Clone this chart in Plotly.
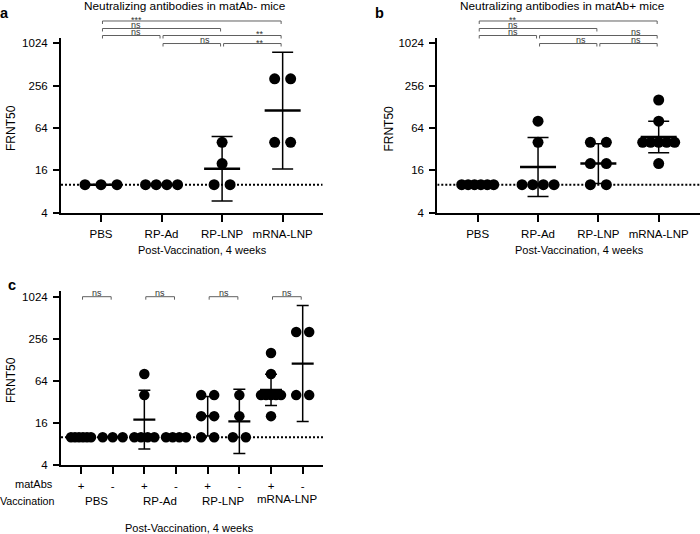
import numpy as np
import plotly.graph_objects as go

W, H = 700, 534

# ---------------- data ----------------
categories = ["PBS", "RP-Ad", "RP-LNP", "mRNA-LNP"]
# matAb- mice (panel a)
neg_pbs = [10, 10, 10]
neg_rpad = [10, 10, 10, 10]
neg_rplnp = [40, 20, 10, 10]
neg_mrna = [320, 320, 40, 40]
# matAb+ mice (panel b)
pos_pbs = [10, 10, 10, 10, 10, 10]
pos_rpad = [80, 40, 10, 10, 10, 10]
pos_rplnp = [40, 40, 20, 20, 10, 10]
pos_mrna = [160, 80, 40, 40, 40, 40, 40, 20]
lod = 10
ytick_vals = [4, 16, 64, 256, 1024]
ytick_text = ["4", "16", "64", "256", "1024"]
matab_labels = ["+", "-"]

stats_a = [("***", 0, 3), ("ns", 0, 2), ("ns", 0, 1), ("**", 1, 3), ("ns", 1, 2), ("**", 2, 3)]
stats_b = [("**", 0, 3), ("ns", 0, 2), ("ns", 0, 1), ("ns", 1, 3), ("ns", 1, 2), ("ns", 2, 3)]
stats_c = [("ns", 0, 1), ("ns", 2, 3), ("ns", 4, 5), ("ns", 6, 7)]

groups_a = [neg_pbs, neg_rpad, neg_rplnp, neg_mrna]
groups_b = [pos_pbs, pos_rpad, pos_rplnp, pos_mrna]
groups_c = []
for p, n in zip(groups_b, groups_a):
    groups_c += [p, n]

# t critical values (two-sided 95%)
T95 = {1: 12.706, 2: 4.303, 3: 3.182, 4: 2.776, 5: 2.571, 6: 2.447,
       7: 2.365, 8: 2.306, 9: 2.262, 10: 2.228}


def gm_ci(vals):
    l = np.log(np.asarray(vals, float))
    n = len(l)
    m = l.mean()
    s = l.std(ddof=1) if n > 1 else 0.0
    h = T95[n - 1] * s / np.sqrt(n)
    return float(np.exp(m)), float(np.exp(m - h)), float(np.exp(m + h))


def offsets(vals, maxgap, width):
    out = [0.0] * len(vals)
    for v in sorted(set(vals)):
        idx = [k for k, u in enumerate(vals) if u == v]
        n = len(idx)
        if n > 1:
            gap = min(maxgap, width / (n - 1))
            for k, j in enumerate(idx):
                out[j] = (k - (n - 1) / 2) * gap
    return out


# ---------------- layout geometry (pixels) ----------------
panels = {
    "a": dict(xdom=(61, 322.7), c0=101, dx=60.55, ydom=(38.3, 212.7), ytop=3.081,
              ax="x", ay="y", msize=11, maxgap=16, spread=32, mean_h=18, cap_h=10.5, mean_w=2.5),
    "b": dict(xdom=(437.3, 700), c0=477.7, dx=60.33, ydom=(38.3, 212.7), ytop=3.081,
              ax="x2", ay="y2", msize=11, maxgap=16, spread=32, mean_h=18, cap_h=10.5, mean_w=2.5),
    "c": dict(xdom=(61, 323), c0=81, dx=31.67, ydom=(290.7, 465), ytop=3.096,
              ax="x3", ay="y3", msize=10.5, maxgap=13, spread=20, mean_h=11, cap_h=6, mean_w=2.2),
}
for p in panels.values():
    p["r0"] = (p["xdom"][0] - p["c0"]) / p["dx"]
    p["r1"] = (p["xdom"][1] - p["c0"]) / p["dx"]

FONT = "Liberation Sans, Arial, Helvetica, sans-serif"

fig = go.Figure()


def px2paper_x(x):
    return x / W


def px2paper_y(y):
    return 1 - y / H


def add_panel(groups, pan):
    p = panels[pan]
    xa, ya = p["ax"], p["ay"]
    # LOD dotted line
    fig.add_trace(go.Scatter(x=[p["r0"], p["r1"]], y=[lod, lod], mode="lines",
                             line=dict(color="black", width=2, dash="2px,2px"),
                             xaxis=xa, yaxis=ya, hoverinfo="skip", showlegend=False))
    px_, py_, ex, ey, mx, my = [], [], [], [], [], []
    mh = p["mean_h"] / p["dx"]
    ch = p["cap_h"] / p["dx"]
    for i, vals in enumerate(groups):
        offs = offsets(vals, p["maxgap"], p["spread"])
        px_ += [i + o / p["dx"] for o in offs]
        py_ += list(vals)
        g, lo, hi = gm_ci(vals)
        ex += [i, i, None, i - ch, i + ch, None, i - ch, i + ch, None]
        ey += [lo, hi, None, lo, lo, None, hi, hi, None]
        mx += [i - mh, i + mh, None]
        my += [g, g, None]
    fig.add_trace(go.Scatter(x=ex, y=ey, mode="lines", line=dict(color="black", width=1.5),
                             xaxis=xa, yaxis=ya, hoverinfo="skip", showlegend=False))
    fig.add_trace(go.Scatter(x=px_, y=py_, mode="markers",
                             marker=dict(color="black", size=p["msize"], line=dict(width=0)),
                             xaxis=xa, yaxis=ya, showlegend=False))
    fig.add_trace(go.Scatter(x=mx, y=my, mode="lines", line=dict(color="black", width=p["mean_w"]),
                             xaxis=xa, yaxis=ya, hoverinfo="skip", showlegend=False))


add_panel(groups_a, "a")
add_panel(groups_b, "b")
add_panel(groups_c, "c")

shapes = []
annotations = []


def cat_px(pan, i):
    p = panels[pan]
    return p["c0"] + i * p["dx"]


def bracket(pan, i, j, ypx, label, lab_x_data=None, tick=3):
    x0 = cat_px(pan, i) + 1.5
    x1 = cat_px(pan, j) - 1.5
    path = "M {:.4f},{:.4f} L {:.4f},{:.4f} L {:.4f},{:.4f} L {:.4f},{:.4f}".format(
        px2paper_x(x0), px2paper_y(ypx + tick), px2paper_x(x0), px2paper_y(ypx),
        px2paper_x(x1), px2paper_y(ypx), px2paper_x(x1), px2paper_y(ypx + tick))
    shapes.append(dict(type="path", path=path, xref="paper", yref="paper",
                       line=dict(color="#606060", width=1)))
    if lab_x_data is None:
        lx = (x0 + x1) / 2
    else:
        lx = cat_px(pan, lab_x_data)
    ly = ypx - (1.0 if "*" in label else 3.5)
    annotations.append(dict(text=label, x=px2paper_x(lx), y=px2paper_y(ly), xref="paper", yref="paper",
                            showarrow=False, xanchor="center", yanchor="middle",
                            font=dict(size=9, color="#333333", family=FONT)))


levels = [21, 28.5, 35.5, 35.5, 43.5, 43.5]
label_pos = [0.58, 0.58, 0.58, 2.62, 1.72, 2.62]
for (lab, i, j), lv, lp in zip(stats_a, levels, label_pos):
    bracket("a", i, j, lv, lab, lp)
for (lab, i, j), lv, lp in zip(stats_b, levels, label_pos):
    bracket("b", i, j, lv, lab, lp)
for (lab, i, j) in stats_c:
    bracket("c", i, j, 296.7, lab)


def ann(text, x, y, size=11.5, xanchor="center", yanchor="middle", bold=False, angle=0):
    annotations.append(dict(text=("<b>%s</b>" % text) if bold else text, x=px2paper_x(x), y=px2paper_y(y),
                            xref="paper", yref="paper", showarrow=False, xanchor=xanchor,
                            yanchor=yanchor, textangle=angle,
                            font=dict(size=size, color="black", family=FONT)))


# titles
ann("Neutralizing antibodies in matAb- mice", 184.5, 6, size=11.8)
ann("Neutralizing antibodies in matAb+ mice", 562.5, 6, size=11.8)
# panel letters
ann("a", 4, 13, size=14.5, bold=True)
ann("b", 380, 13, size=14.5, bold=True)
ann("c", 12, 285, size=14.5, bold=True)
# y titles
ann("FRNT50", 11.7, 128.3, size=12, angle=-90)
ann("FRNT50", 389.3, 128.3, size=12, angle=-90)
ann("FRNT50", 11.7, 380.3, size=12, angle=-90)
# x titles
ann("Post-Vaccination, 4 weeks", 202, 250, size=11)
ann("Post-Vaccination, 4 weeks", 579, 250, size=11)
ann("Post-Vaccination, 4 weeks", 190, 528, size=11)
# panel c group labels
ann("matAbs", 55.5, 484, size=11, xanchor="right")
ann("Vaccination", 57, 501, size=10.7, xanchor="right")
for k, cat in enumerate(categories):
    ann(cat, (cat_px("c", 2 * k) + cat_px("c", 2 * k + 1)) / 2, 501 if k < 3 else 499)

layout = dict(width=W, height=H, margin=dict(l=0, r=0, t=0, b=0),
              paper_bgcolor="white", plot_bgcolor="white",
              font=dict(family=FONT, color="black", size=11.5),
              shapes=shapes, annotations=annotations, showlegend=False)

axis_common = dict(showline=True, linecolor="black", linewidth=2, ticks="outside",
                   tickwidth=2, tickcolor="black", showgrid=False, zeroline=False,
                   automargin=False, fixedrange=True, tickfont=dict(size=11.5, color="black", family=FONT))

for pan, (xk, yk) in zip(["a", "b", "c"], [("xaxis", "yaxis"), ("xaxis2", "yaxis2"), ("xaxis3", "yaxis3")]):
    p = panels[pan]
    n = len(categories) if pan != "c" else 2 * len(categories)
    ttext = categories if pan != "c" else matab_labels * len(categories)
    layout[xk] = dict(axis_common, domain=[px2paper_x(p["xdom"][0]), px2paper_x(p["xdom"][1])],
                      range=[p["r0"], p["r1"]], tickvals=list(range(n)), ticktext=ttext,
                      ticklen=7, anchor=p["ay"], ticklabelstandoff=2)
    layout[yk] = dict(axis_common, type="log",
                      domain=[px2paper_y(p["ydom"][1]), px2paper_y(p["ydom"][0])],
                      range=[np.log10(4), p["ytop"]], tickvals=ytick_vals, ticktext=ytick_text,
                      ticklen=6, anchor=p["ax"], ticklabelstandoff=3)

fig.update_layout(**layout)
fig.write_html("out.html", config={"displayModeBar": False},
               post_script="document.body.style.margin='0';document.body.style.overflow='hidden';")
